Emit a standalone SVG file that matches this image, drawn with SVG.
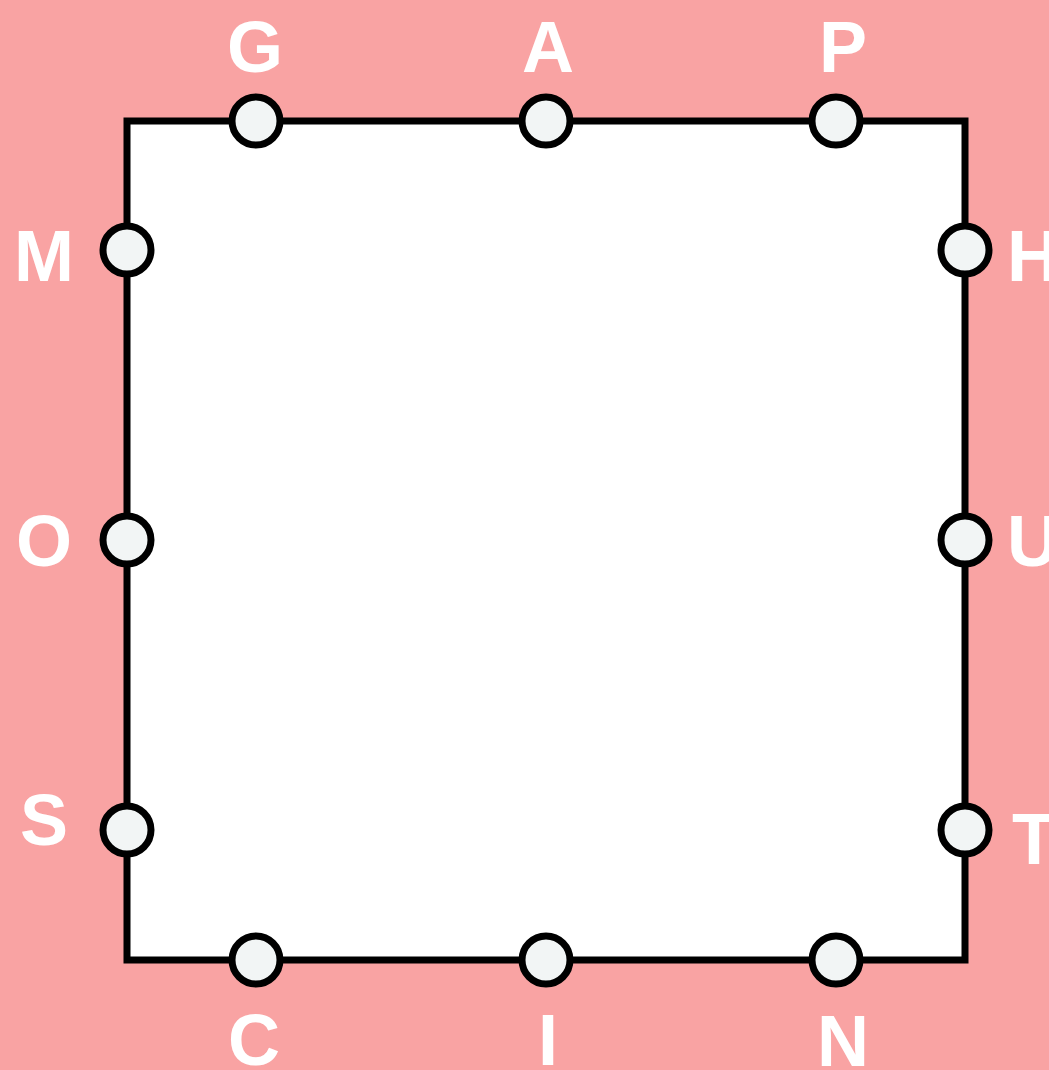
<svg xmlns="http://www.w3.org/2000/svg" width="1049" height="1070" viewBox="0 0 1049 1070">
<style>
.lbl{font-family:"Liberation Sans",Arial,sans-serif;font-weight:bold;font-size:72px;fill:#ffffff}
.c{text-anchor:middle}
.port{fill:#f2f5f5;stroke:#000000;stroke-width:7}
</style>
<rect x="0" y="0" width="1049" height="1070" fill="#f9a3a3"/>
<g id="square">
<rect x="127" y="121" width="838" height="839" fill="#ffffff" stroke="#000000" stroke-width="7"/>
</g>
<g id="connectors"></g>
<g id="G"><circle class="port" cx="256" cy="121" r="24"/><text class="lbl c" x="255" y="72">G</text></g>
<g id="A"><circle class="port" cx="546" cy="121" r="24"/><text class="lbl c" x="548" y="72">A</text></g>
<g id="P"><circle class="port" cx="836" cy="121" r="24"/><text class="lbl c" x="843" y="72">P</text></g>
<g id="M"><circle class="port" cx="127" cy="250" r="24"/><text class="lbl c" x="44" y="281">M</text></g>
<g id="O"><circle class="port" cx="127" cy="540" r="24"/><text class="lbl c" x="44" y="566">O</text></g>
<g id="S"><circle class="port" cx="127" cy="830" r="24"/><text class="lbl c" x="44" y="845">S</text></g>
<g id="H"><circle class="port" cx="965" cy="250" r="24"/><text class="lbl" x="1007" y="281">H</text></g>
<g id="U"><circle class="port" cx="965" cy="540" r="24"/><text class="lbl" x="1007" y="566">U</text></g>
<g id="T"><circle class="port" cx="965" cy="830" r="24"/><text class="lbl" x="1012" y="864">T</text></g>
<g id="C"><circle class="port" cx="256" cy="960" r="24"/><text class="lbl c" x="254" y="1065">C</text></g>
<g id="I"><circle class="port" cx="546" cy="960" r="24"/><text class="lbl c" x="548" y="1065">I</text></g>
<g id="N"><circle class="port" cx="836" cy="960" r="24"/><text class="lbl c" x="843" y="1066">N</text></g>
</svg>
